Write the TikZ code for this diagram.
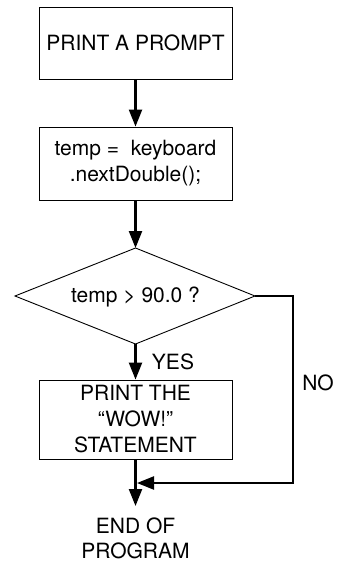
\documentclass[tikz,border=0pt]{standalone}
\usepackage{fontspec}
\setmainfont{TeX Gyre Heros}
\usetikzlibrary{arrows.meta}
\begin{document}
\begin{tikzpicture}[x=1pt,y=-1pt,
  txt/.style={font=\fontsize{21}{26}\selectfont,align=center,inner sep=0pt},
  box/.style={txt,draw,line width=0.9pt,minimum width=193pt},
  arr/.style={line width=2.3pt,-{Triangle[length=17pt,width=13pt]}}
]
\useasboundingbox (0,0) rectangle (342,562);
\node[box,minimum height=72pt] (b1) at (135.5,43) {PRINT A PROMPT};
\node[box,minimum height=73pt] (b2) at (135.5,163.5) {temp = \ keyboard\\.nextDouble();};
\node[txt] (d) at (135.5,297) {temp > 90.0 ?};
\coordinate (dn) at (135.5,248);
\coordinate (ds) at (135.5,344);
\coordinate (dw) at (15,296);
\coordinate (de) at (255,296);
\draw[line width=0.9pt,line join=miter] (dn) -- (de) -- (ds) -- (dw) -- cycle;
\node[box,minimum height=79pt] (b3) at (135.5,419.5) {PRINT THE\\“WOW!”\\STATEMENT};
\node[txt,anchor=north,font=\fontsize{21}{24.5}\selectfont] (e) at (135.5,518) {END OF\\PROGRAM};
\node[txt] (yes) at (173,362) {YES};
\node[txt] (no) at (318,383) {NO};
\coordinate (c1) at (293,483);
\coordinate (j) at (137,483);
\draw[arr] (b1.south) -- (b2.north);
\draw[arr] (b2.south) -- (dn);
\draw[arr] (ds) -- (b3.north);
\draw[arr,shorten >=12pt] (b3.south) -- (e.north);
\draw[arr] (de) -| (c1) -- (j);
\end{tikzpicture}
\end{document}
